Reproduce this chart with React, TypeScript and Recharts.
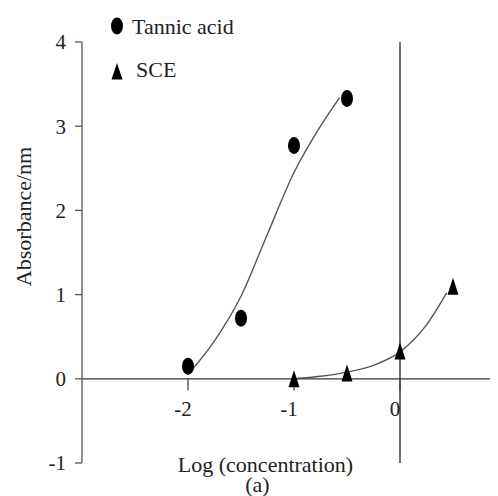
import React from 'react';
import { ComposedChart, Line, Scatter, XAxis, YAxis, ReferenceLine } from 'recharts';

const tannicX = [-2, -1.5, -1, -0.5];
const tannicY = [0.15, 0.72, 2.77, 3.33];
const sceX = [-1, -0.5, 0, 0.5];
const sceY = [0, 0.07, 0.33, 1.1];
const tannicFitX = [-2, -1.75, -1.5, -1.25, -1, -0.75, -0.57];
const tannicFitY = [0.05, 0.45, 0.98, 1.72, 2.45, 3.0, 3.34];
const sceFitX = [-1, -0.75, -0.5, -0.25, 0, 0.25, 0.44];
const sceFitY = [0, 0.03, 0.08, 0.16, 0.32, 0.64, 1.02];
const xTicks = [-2, -1, 0, 1];
const xTickLabels = ['-2', '-1', '0', '1'];
const yTicks = [-1, 0, 1, 2, 3, 4];
const seriesNames = ['Tannic acid', 'SCE'];

const zip = (xs: number[], ys: number[]) => xs.map((x, i) => ({ x, y: ys[i] }));
const tannicData = zip(tannicX, tannicY);
const sceData = zip(sceX, sceY);
const tannicFit = zip(tannicFitX, tannicFitY);
const sceFit = zip(sceFitX, sceFitY);

const FONT = '"Liberation Serif", "Times New Roman", serif';
const TXT = '#222';

const Ellipse = (p: any) => <ellipse cx={p.cx} cy={p.cy} rx={6} ry={8.5} fill="#000" />;
const Tri = (p: any) => (
  <polygon points={`${p.cx},${p.cy - 8.5} ${p.cx - 5.5},${p.cy + 8.5} ${p.cx + 5.5},${p.cy + 8.5}`} fill="#000" />
);

const tickLabel = (label: string) => (props: any) => {
  const vb = props.viewBox || {};
  return (
    <text x={vb.x - 5} y={vb.y + 37} textAnchor="middle" fontFamily={FONT} fontSize={21} fill={TXT}>
      {label}
    </text>
  );
};

const XLabel = (props: any) => {
  const vb = props.viewBox || { x: 74, y: 455 };
  return (
    <g>
      <text x={vb.x + 183.5} y={vb.y + 9} textAnchor="middle" fontFamily={FONT} fontSize={22} fill={TXT}>
        Log (concentration)
      </text>
      <text x={vb.x + 175.5} y={vb.y + 29} textAnchor="middle" fontFamily={FONT} fontSize={22} fill={TXT}>
        (a)
      </text>
    </g>
  );
};

const YLabel = (props: any) => {
  const vb = props.viewBox || { x: 0, y: 34 };
  const x = vb.x + 23;
  const y = vb.y + 174.5;
  return (
    <text x={x} y={y} transform={`rotate(-90, ${x}, ${y})`} textAnchor="middle" fontFamily={FONT} fontSize={22} fill={TXT}>
      Absorbance/nm
    </text>
  );
};

export default function App() {
  return (
    <div style={{ position: 'relative', width: 490, height: 488, overflow: 'hidden' }}>
      <ComposedChart width={520} height={500} margin={{ top: 34, right: 22, left: 0, bottom: 0 }}>
        <XAxis
          dataKey="x"
          type="number"
          domain={[-3, 1]}
          allowDataOverflow
          tick={false}
          axisLine={false}
          tickLine={false}
          height={45}
          label={<XLabel />}
        />
        <YAxis
          dataKey="y"
          type="number"
          domain={[-1, 4]}
          ticks={yTicks}
          interval={0}
          width={74}
          tickSize={7}
          tickMargin={9}
          axisLine={{ stroke: '#555', strokeWidth: 1.3 }}
          tickLine={{ stroke: '#555', strokeWidth: 1.3 }}
          tick={{ fontFamily: FONT, fontSize: 21, fill: TXT }}
          label={<YLabel />}
        />
        <ReferenceLine y={0} stroke="#333" strokeWidth={1.3} />
        <ReferenceLine x={0} stroke="#222" strokeWidth={1.3} />
        {xTicks.map((v, i) => (
          <ReferenceLine
            key={v}
            segment={[{ x: v, y: 0 }, { x: v, y: -0.14 }]}
            stroke="#444"
            strokeWidth={1.3}
            label={tickLabel(xTickLabels[i])}
          />
        ))}
        <Line data={tannicFit} dataKey="y" type="monotone" stroke="#555" strokeWidth={1.4} dot={false} isAnimationActive={false} />
        <Line data={sceFit} dataKey="y" type="monotone" stroke="#555" strokeWidth={1.4} dot={false} isAnimationActive={false} />
        <Scatter data={tannicData} dataKey="y" shape={Ellipse} isAnimationActive={false} />
        <Scatter data={sceData} dataKey="y" shape={Tri} isAnimationActive={false} />
      </ComposedChart>
      <svg width={320} height={90} style={{ position: 'absolute', left: 0, top: 0 }}>
        <ellipse cx={109} cy={18} rx={6} ry={8.5} fill="#000" />
        <text x={124} y={25.5} fontFamily={FONT} fontSize={22} fill={TXT}>{seriesNames[0]}</text>
        <polygon points="109,55 103.5,71.5 114.5,71.5" fill="#000" />
        <text x={128} y={69} fontFamily={FONT} fontSize={22} fill={TXT}>{seriesNames[1]}</text>
      </svg>
    </div>
  );
}
